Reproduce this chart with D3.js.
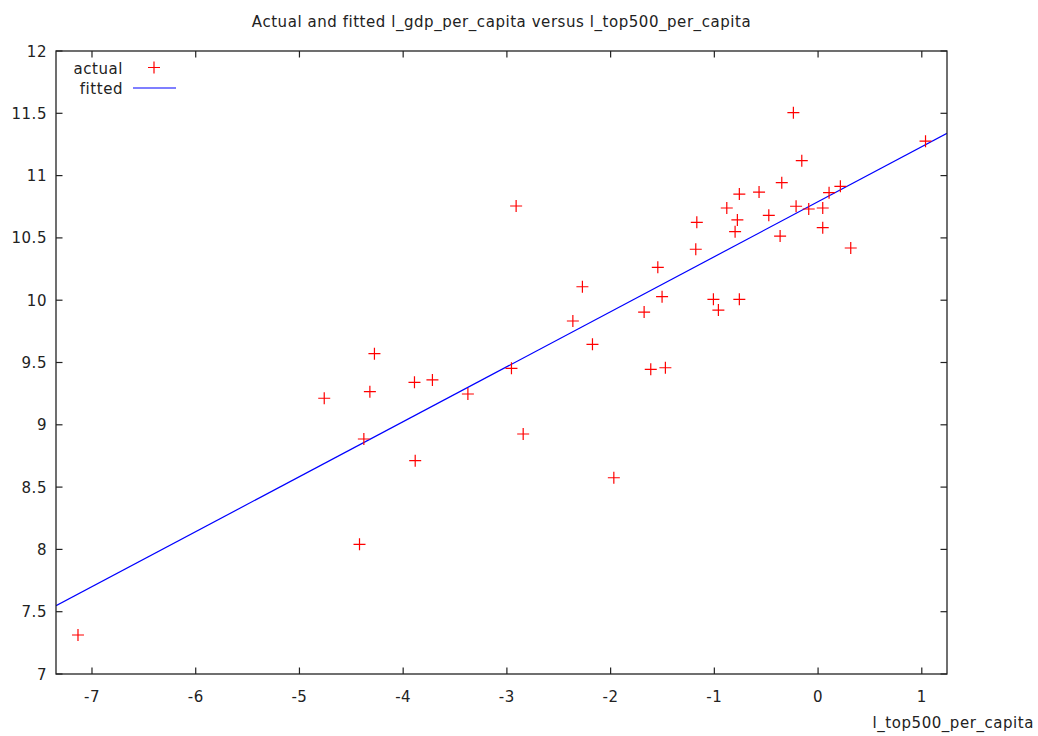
<!DOCTYPE html>
<html>
<head>
<meta charset="utf-8">
<script src="https://cdn.jsdelivr.net/npm/d3@7/dist/d3.min.js"></script>
<style>
  body { margin: 0; background: #fff; }
  svg text { font-family: "DejaVu Sans", Verdana, sans-serif; fill: #222; letter-spacing: 0.55px; }
</style>
</head>
<body>
<div id="chart"></div>
<script>
// actual observations (l_top500_per_capita, l_gdp_per_capita)
var actualX = [
  -7.135, -4.761, -4.421, -4.379, -4.321, -4.277, -3.891, -3.884, -3.718, -3.376,
  -2.956, -2.911, -2.843, -2.364, -2.272, -2.175, -1.969, -1.677, -1.613, -1.545,
  -1.504, -1.472, -1.179, -1.169, -1.009, -0.961, -0.880, -0.800, -0.778, -0.759,
  -0.759, -0.569, -0.475, -0.366, -0.350, -0.238, -0.212, -0.157, -0.090, 0.045,
  0.045, 0.106, 0.215, 0.315, 1.036
];
var actualY = [
  7.313, 9.213, 8.041, 8.886, 9.266, 9.571, 9.341, 8.712, 9.360, 9.247,
  9.453, 10.756, 8.926, 9.833, 10.108, 9.646, 8.575, 9.905, 9.445, 10.264,
  10.028, 9.458, 10.409, 10.625, 10.007, 9.921, 10.740, 10.550, 10.644, 10.007,
  10.852, 10.868, 10.681, 10.515, 10.943, 11.505, 10.754, 11.120, 10.732, 10.582,
  10.740, 10.863, 10.914, 10.419, 11.276
];
// fitted line, read at the plot edges
var fittedX = [-7.347, 1.243];
var fittedY = [7.548, 11.339];

var xTicks = [-7, -6, -5, -4, -3, -2, -1, 0, 1];
var yTicks = [7, 7.5, 8, 8.5, 9, 9.5, 10, 10.5, 11, 11.5, 12];

var W = 1038, H = 736;
var plot = { left: 56, right: 947, top: 51, bottom: 674 };
var tickLen = 6.5;

var svg = d3.select('#chart').append('svg')
  .attr('width', W).attr('height', H)
  .style('background', '#fff');

var x = d3.scaleLinear().domain([fittedX[0], fittedX[1]]).range([plot.left, plot.right]);
var y = d3.scaleLinear().domain([7, 12]).range([plot.bottom, plot.top]);

// title
svg.append('text')
  .attr('x', 501.5).attr('y', 27)
  .attr('text-anchor', 'middle')
  .attr('font-size', '15px')
  .text('Actual and fitted l_gdp_per_capita versus l_top500_per_capita');

// ticks (inward, mirrored like gnuplot)
var axisG = svg.append('g').attr('stroke', '#222').attr('stroke-width', 1.2);
xTicks.forEach(function (t) {
  axisG.append('line').attr('x1', x(t)).attr('x2', x(t)).attr('y1', plot.bottom).attr('y2', plot.bottom - tickLen);
  axisG.append('line').attr('x1', x(t)).attr('x2', x(t)).attr('y1', plot.top).attr('y2', plot.top + tickLen);
});
yTicks.forEach(function (t) {
  axisG.append('line').attr('x1', plot.left).attr('x2', plot.left + tickLen).attr('y1', y(t)).attr('y2', y(t));
  axisG.append('line').attr('x1', plot.right).attr('x2', plot.right - tickLen).attr('y1', y(t)).attr('y2', y(t));
});

// tick labels
svg.append('g').selectAll('text').data(xTicks).enter().append('text')
  .attr('x', function (d) { return x(d); })
  .attr('y', 702)
  .attr('text-anchor', 'middle')
  .attr('font-size', '15px')
  .text(function (d) { return d; });

svg.append('g').selectAll('text').data(yTicks).enter().append('text')
  .attr('x', 47)
  .attr('y', function (d) { return y(d) + 5.5; })
  .attr('text-anchor', 'end')
  .attr('font-size', '15px')
  .text(function (d) { return d; });

// x axis label
svg.append('text')
  .attr('x', 1034).attr('y', 728)
  .attr('text-anchor', 'end')
  .attr('font-size', '15px')
  .text('l_top500_per_capita');

// clip for data
svg.append('defs').append('clipPath').attr('id', 'plotClip')
  .append('rect')
  .attr('x', plot.left).attr('y', plot.top)
  .attr('width', plot.right - plot.left).attr('height', plot.bottom - plot.top);

var dataG = svg.append('g').attr('clip-path', 'url(#plotClip)');

// fitted line
var fitted = fittedX.map(function (v, i) { return [v, fittedY[i]]; });
dataG.append('path')
  .datum(fitted)
  .attr('fill', 'none')
  .attr('stroke', '#0000ff')
  .attr('stroke-width', 1.2)
  .attr('d', d3.line().x(function (d) { return x(d[0]); }).y(function (d) { return y(d[1]); }));

// actual points as plus signs
var pts = actualX.map(function (v, i) { return [v, actualY[i]]; });
var ptsG = dataG.append('g').attr('stroke', '#ff0000').attr('stroke-width', 1.2);
pts.forEach(function (p) {
  var cx = x(p[0]), cy = y(p[1]);
  ptsG.append('path').attr('d', 'M' + (cx - 6) + ',' + cy + 'H' + (cx + 6) + 'M' + cx + ',' + (cy - 6) + 'V' + (cy + 6));
});

// frame
svg.append('rect')
  .attr('x', plot.left).attr('y', plot.top)
  .attr('width', plot.right - plot.left).attr('height', plot.bottom - plot.top)
  .attr('fill', 'none').attr('stroke', '#222').attr('stroke-width', 1.3);

// legend
var leg = svg.append('g');
leg.append('text').attr('x', 123).attr('y', 74).attr('text-anchor', 'end').attr('font-size', '15px').text('actual');
leg.append('text').attr('x', 123).attr('y', 94).attr('text-anchor', 'end').attr('font-size', '15px').text('fitted');
leg.append('path')
  .attr('d', 'M148,67.5H160M154,61.5V73.5')
  .attr('stroke', '#ff0000').attr('stroke-width', 1.2);
leg.append('line')
  .attr('x1', 133).attr('x2', 176).attr('y1', 88).attr('y2', 88)
  .attr('stroke', '#0000ff').attr('stroke-width', 1.2);
</script>
</body>
</html>
